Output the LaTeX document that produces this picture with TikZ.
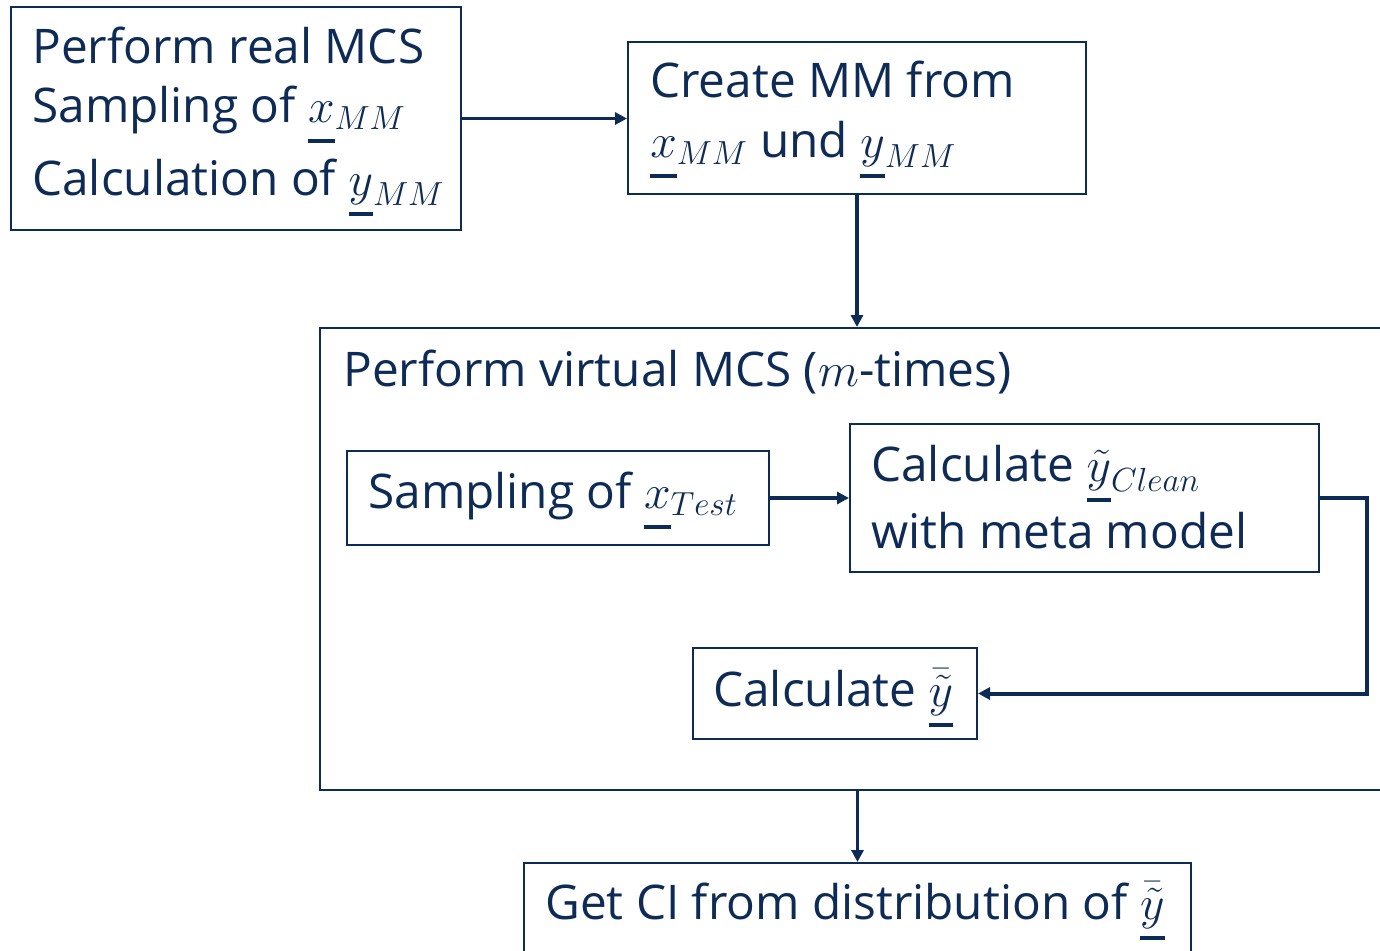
\RequirePackage{fix-cm}
\documentclass[tikz,border=0pt]{standalone}
\usepackage{fontspec}
\setmainfont{Open Sans}
\usetikzlibrary{arrows.meta}
\definecolor{navy}{RGB}{14,43,85}
% underlined vector symbol with a heavy bar set well below the baseline
\newcommand\ulv[1]{\setbox0\hbox{$#1$}\rlap{\rule[-0.45em]{\wd0}{0.09em}}\box0}
\begin{document}
\begin{tikzpicture}[x=0.75pt,y=-0.75pt,
  frame/.style={draw=navy, line width=1.5pt, fill=none, inner sep=0pt},
  txt/.style={anchor=base west, inner sep=0pt, text=navy, font=\fontsize{35.8}{42}\selectfont},
  link/.style={draw=navy, line width=2.3pt, -{Triangle[length=9pt,width=9pt]}},
  heavylink/.style={draw=navy, line width=3pt, line join=miter, -{Triangle[length=9pt,width=9pt]}}]
\useasboundingbox (0,0) rectangle (1380,950);

% boxes
\node[frame, minimum width=450*0.75pt, minimum height=223*0.75pt] (A) at (236,118.5) {};
\node[frame, minimum width=458*0.75pt, minimum height=152*0.75pt] (B) at (857,118) {};
\node[frame, minimum width=1090*0.75pt, minimum height=462*0.75pt] (C) at (865,559) {};
\node[frame, minimum width=422*0.75pt, minimum height=94*0.75pt] (D) at (558,498) {};
\node[frame, minimum width=469*0.75pt, minimum height=148*0.75pt] (E) at (1084.5,498) {};
\node[frame, minimum width=284*0.75pt, minimum height=91*0.75pt] (F) at (835,693.5) {};
\node[frame, minimum width=667*0.75pt, minimum height=107*0.75pt] (G) at (857.5,916.5) {};

% texts
\node[txt] (a1) at (32,63) {Perform real MCS};
\node[txt] (a2) at (32,122) {Sampling of $\ulv{x}_{MM}$};
\node[txt] (a3) at (32,195) {Calculation of $\ulv{y}_{MM}$};
\node[txt] (b1) at (650,97) {Create MM from};
\node[txt] (b2) at (650,157) {$\ulv{x}_{MM}$ und $\ulv{y}_{MM}$};
\node[txt] (c1) at (343,386) {Perform virtual MCS ($m$-times)};
\node[txt] (d1) at (368,508) {Sampling of $\ulv{x}_{Test}$};
\node[txt] (e1) at (871,481) {Calculate $\ulv{\tilde{y}}_{Clean}$};
\node[txt] (e2) at (871,548) {with meta model};
\node[txt] (f1) at (713,706) {Calculate $\ulv{\bar{\tilde{y}}}$};
\node[txt] (g1) at (545,919) {Get CI from distribution of $\ulv{\bar{\tilde{y}}}$};

% connectors
\draw[link] (A.east) -- (A.east -| B.west);
\draw[link] (B.south) -- (B.south |- C.north);
\draw[link] (D.east) -- (D.east -| E.west);
\coordinate (turn) at (1367,498);
\draw[heavylink] (E.east) -- (turn) |- (F.east);
\draw[link] (G.north |- C.south) -- (G.north);
\end{tikzpicture}
\end{document}
